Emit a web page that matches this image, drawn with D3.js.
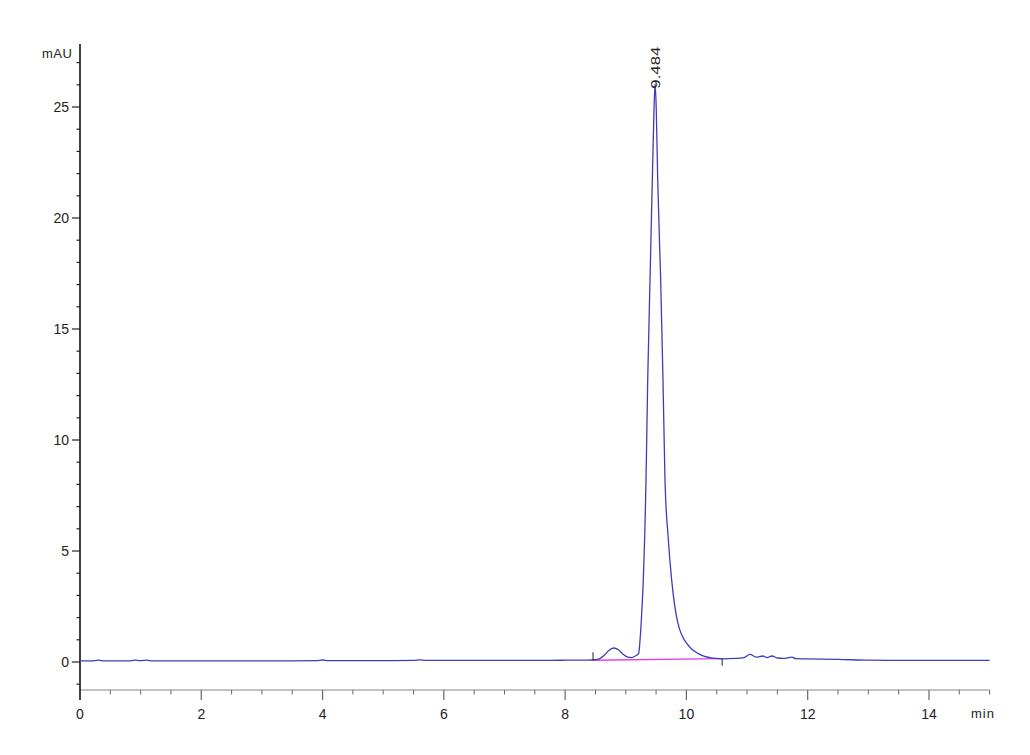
<!DOCTYPE html>
<html>
<head>
<meta charset="utf-8">
<script src="https://cdn.jsdelivr.net/npm/d3@7"></script>
<style>
  html, body { margin: 0; padding: 0; background: #fff; }
  svg { display: block; }
  text { font-family: "Liberation Sans", Arial, sans-serif; fill: #222; }
</style>
</head>
<body>
<svg id="chart" width="1030" height="755"></svg>
<script>
// ---- data ----
const timeMin = [0, 0.2, 0.3, 0.4, 0.5, 0.8, 0.9, 1.0, 1.1, 1.2, 1.5, 2, 2.5, 3, 3.5, 3.9, 4.0, 4.1, 4.5, 5, 5.5, 5.6, 5.7, 6, 6.5, 7, 7.5, 8, 8.3, 8.45, 8.55, 8.65, 8.72, 8.8, 8.88, 8.95, 9.03, 9.1, 9.15, 9.213, 9.235, 9.263, 9.289, 9.334, 9.362, 9.40, 9.438, 9.465, 9.484, 9.503, 9.527, 9.576, 9.614, 9.647, 9.7, 9.757, 9.812, 9.86, 9.91, 9.977, 10.08, 10.19, 10.3, 10.45, 10.6, 10.8, 10.95, 11.05, 11.15, 11.26, 11.33, 11.41, 11.5, 11.6, 11.74, 11.8, 12, 12.5, 13, 13.5, 14, 14.5, 15];
const signalMAU = [0.05, 0.05, 0.08, 0.05, 0.05, 0.05, 0.08, 0.06, 0.08, 0.05, 0.05, 0.05, 0.05, 0.05, 0.05, 0.06, 0.09, 0.06, 0.06, 0.06, 0.07, 0.1, 0.07, 0.07, 0.07, 0.07, 0.07, 0.08, 0.08, 0.09, 0.13, 0.32, 0.52, 0.63, 0.55, 0.36, 0.22, 0.2, 0.26, 0.39, 0.98, 2.2, 3.69, 8.2, 12.7, 17.2, 21.7, 24.8, 26.05, 24.9, 21.7, 17.2, 12.7, 8.2, 5.6, 3.69, 2.45, 1.75, 1.3, 0.95, 0.6, 0.39, 0.25, 0.17, 0.14, 0.16, 0.2, 0.34, 0.22, 0.27, 0.2, 0.27, 0.18, 0.16, 0.22, 0.15, 0.14, 0.12, 0.08, 0.07, 0.07, 0.07, 0.07];
const baselineTime = [8.46, 10.59];
const baselineVal = [0.08, 0.15];
const peakTime = [9.484];
const peakVal = [26.05];
const peakLabels = ["9.484"];
const xTicksMajor = [0, 2, 4, 6, 8, 10, 12, 14];
const yTicksMajor = [0, 5, 10, 15, 20, 25];

// ---- scales ----
const x = d3.scaleLinear().domain([0, 15]).range([80, 989.6]);
const y = d3.scaleLinear().domain([0, 25]).range([662, 107]);

const svg = d3.select("#chart");

// minor ticks
const xMinor = d3.range(0, 15.01, 0.5).filter(v => v % 2 !== 0);
const yMinor = d3.range(-1, 27.01, 1).filter(v => v % 5 !== 0);

// x axis
const gx = svg.append("g");
gx.append("line").attr("x1", x(0)).attr("x2", x(15)).attr("y1", 690).attr("y2", 690)
  .attr("stroke", "#888").attr("stroke-width", 1.2);
gx.selectAll("line.minor").data(xMinor).join("line").attr("class", "minor")
  .attr("x1", d => x(d)).attr("x2", d => x(d)).attr("y1", 690).attr("y2", 694.5)
  .attr("stroke", "#666").attr("stroke-width", 1);
gx.selectAll("line.major").data(xTicksMajor.filter(d => d > 0)).join("line").attr("class", "major")
  .attr("x1", d => x(d)).attr("x2", d => x(d)).attr("y1", 690).attr("y2", 700)
  .attr("stroke", "#666").attr("stroke-width", 1.2);
gx.selectAll("text").data(xTicksMajor).join("text")
  .attr("x", d => x(d)).attr("y", 719).attr("text-anchor", "middle")
  .attr("font-size", 14).text(d => d);
svg.append("text").attr("x", 971).attr("y", 718).attr("font-size", 13)
  .attr("letter-spacing", 1).text("min");

// y axis
const gy = svg.append("g");
gy.append("line").attr("x1", 80).attr("x2", 80).attr("y1", 44).attr("y2", 700)
  .attr("stroke", "#111").attr("stroke-width", 1.6);
gy.selectAll("line.minor").data(yMinor).join("line").attr("class", "minor")
  .attr("x1", 76.5).attr("x2", 80).attr("y1", d => y(d)).attr("y2", d => y(d))
  .attr("stroke", "#222").attr("stroke-width", 1.2);
gy.selectAll("line.major").data(yTicksMajor).join("line").attr("class", "major")
  .attr("x1", 72).attr("x2", 80).attr("y1", d => y(d)).attr("y2", d => y(d))
  .attr("stroke", "#222").attr("stroke-width", 1.2);
gy.selectAll("text").data(yTicksMajor).join("text")
  .attr("x", 69).attr("y", d => y(d)).attr("dy", "0.36em").attr("text-anchor", "end")
  .attr("font-size", 14).text(d => d);
svg.append("text").attr("x", 42).attr("y", 58).attr("font-size", 13)
  .attr("letter-spacing", 0.5).text("mAU");

// baseline (integration)
const bl = baselineTime.map((t, i) => [t, baselineVal[i]]);
svg.append("path").datum(bl)
  .attr("d", d3.line().x(d => x(d[0])).y(d => y(d[1])))
  .attr("stroke", "#e040e0").attr("stroke-width", 1.4).attr("fill", "none");

// signal
const pts = timeMin.map((t, i) => [t, signalMAU[i]]);
svg.append("path").datum(pts)
  .attr("d", d3.line().curve(d3.curveMonotoneX).x(d => x(d[0])).y(d => y(d[1])))
  .attr("stroke", "#3c3cc0").attr("stroke-width", 1.3).attr("fill", "none")
  .attr("stroke-linejoin", "round");

// baseline markers
svg.append("line").attr("x1", x(baselineTime[0])).attr("x2", x(baselineTime[0]))
  .attr("y1", y(baselineVal[0]) - 8).attr("y2", y(baselineVal[0]))
  .attr("stroke", "#222").attr("stroke-width", 1);
svg.append("line").attr("x1", x(baselineTime[1])).attr("x2", x(baselineTime[1]))
  .attr("y1", y(baselineVal[1])).attr("y2", y(baselineVal[1]) + 7)
  .attr("stroke", "#222").attr("stroke-width", 1);

// peak label
peakTime.forEach((t, i) => {
  const px = x(t), py = y(peakVal[i]) + 5;
  svg.append("text")
    .attr("transform", `translate(${px + 4.5},${py}) rotate(-90)`)
    .attr("font-size", 13)
    .attr("textLength", 42).attr("lengthAdjust", "spacingAndGlyphs")
    .text(peakLabels[i]);
});
</script>
</body>
</html>
